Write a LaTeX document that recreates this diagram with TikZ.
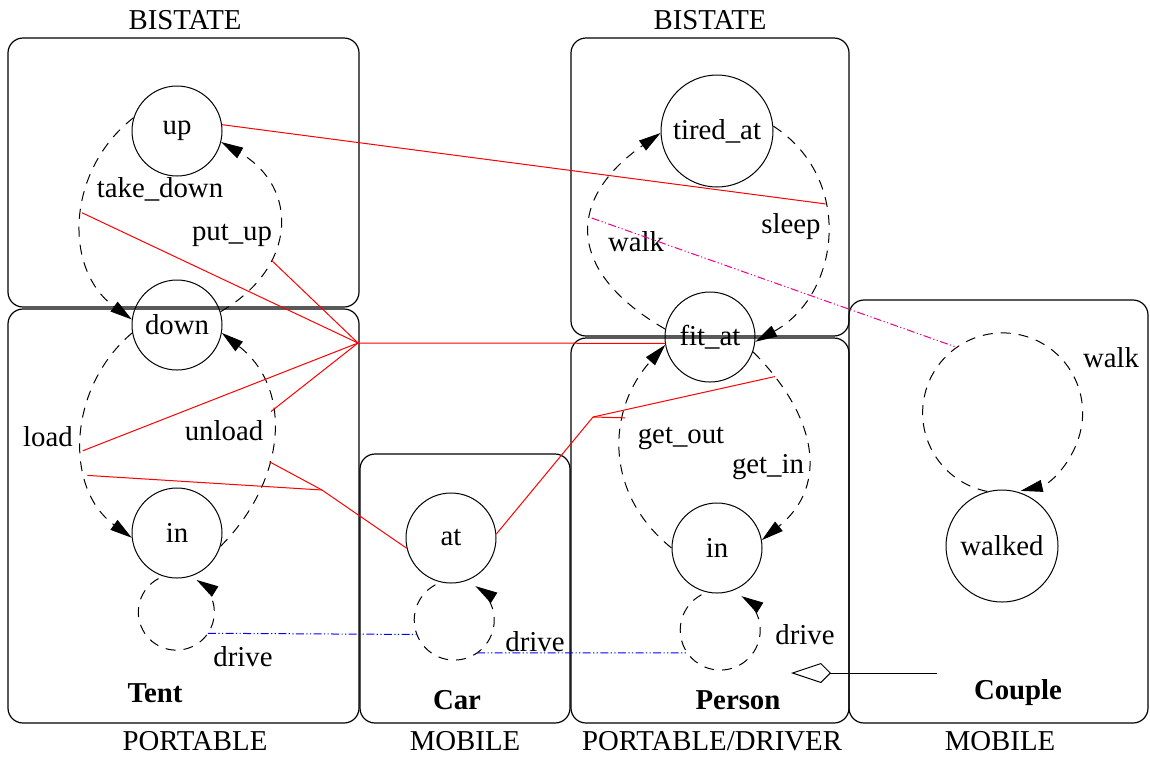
\documentclass[tikz,border=0pt]{standalone}
\usepackage{fontspec}
\setmainfont{Liberation Serif}
\usetikzlibrary{arrows.meta}
\tikzset{
  state/.style={circle,draw,line width=0.5pt,minimum size=45pt,inner sep=0pt},
  bigstate/.style={state,minimum size=56pt},
  group/.style={draw,line width=0.6pt,rounded corners=7.5pt},
  trans/.style={-{Triangle[length=11pt,width=6pt]},line width=0.5pt,dash pattern=on 5pt off 4pt},
  sync/.style={draw=red,line width=0.5pt},
  drivelink/.style={draw=blue,line width=0.5pt,dash pattern=on 4pt off 1.2pt on 0.6pt off 1.2pt on 0.6pt off 1.2pt},
  walklink/.style={drivelink,draw=magenta},
  partof/.style={-{Kite[open,length=20pt,width=10pt,inset=5pt]},line width=0.5pt},
  lbl/.style={inner sep=0pt},
  cls/.style={inner sep=0pt,font=\fontsize{14.4}{17}\selectfont\bfseries}}

\begin{document}
\begin{tikzpicture}[x=0.5pt,y=0.5pt,font=\fontsize{14.4}{17}\selectfont]
  \useasboundingbox (0,0) rectangle (1150,-757);
  \draw[group] (8,-38) rectangle (359,-307);
  \draw[group] (8,-309) rectangle (359,-723);
  \draw[group] (360,-454) rectangle (570,-723);
  \draw[group] (571,-38) rectangle (849,-336);
  \draw[group] (571,-338) rectangle (849,-723);
  \draw[group] (849,-300) rectangle (1148,-723);

  \node[lbl] (tentbi) at (185,-20) {BISTATE};
  \node[lbl] (persbi) at (710,-20) {BISTATE};
  \node[lbl] (tentkind) at (195,-741) {PORTABLE};
  \node[lbl] (carkind) at (465,-741) {MOBILE};
  \node[lbl] (perskind) at (712,-741) {PORTABLE/DRIVER};
  \node[lbl] (couplekind) at (1000,-741) {MOBILE};
  \node[cls] (tent) at (155,-693) {Tent};
  \node[cls] (car) at (457,-700) {Car};
  \node[cls] (person) at (738,-700) {Person};
  \node[cls] (couple) at (1018,-693) {Couple};

  \node[state] (up) at (177,-131) {up};
  \node[state] (down) at (177,-325) {down};
  \node[state] (tentin) at (177,-533) {in};
  \node[state] (carat) at (451,-538) {at};
  \node[bigstate] (tiredat) at (717,-131) {tired\_at};
  \node[state] (fitat) at (710,-337) {fit\_at};
  \node[state] (persin) at (717,-548) {in};
  \node[bigstate] (walked) at (1002,-546) {walked};

  \node[lbl] (takedown) at (160,-189) {take\_down};
  \node[lbl] (putup) at (232,-235) {put\_up};
  \node[lbl] (load) at (48,-437) {load};
  \node[lbl] (unload) at (224,-431) {unload};
  \node[lbl] (tentdrive) at (243,-657) {drive};
  \node[lbl] (cardrive) at (535,-642) {drive};
  \node[lbl] (persdrive) at (805,-635) {drive};
  \node[lbl] (walk) at (636,-242) {walk};
  \node[lbl] (sleep) at (791,-227) {sleep};
  \node[lbl] (getout) at (681,-438) {get\_out};
  \node[lbl] (getin) at (768,-467) {get\_in};
  \node[lbl] (couplewalk) at (1111,-358) {walk};

  \draw[trans] (up.163) to[out=218,in=144,looseness=1.08] node[coordinate,pos=0.47] (td) {} (down.173);
  \draw[trans] (down.17) to[out=30,in=330,looseness=1.35] node[coordinate,pos=0.32] (pu) {} (up.-14);
  \draw[trans] (down.190) to[out=220,in=144,looseness=1.05] node[coordinate,pos=0.56] (ld1) {} node[coordinate,pos=0.67] (ld2) {} (tentin.186);
  \draw[trans] (tentin.-17) to[out=45,in=322,looseness=1.1] node[coordinate,pos=0.39] (ul2) {} node[coordinate,pos=0.61] (ul1) {} (down.-10);
  \draw[trans] ([yshift=-2pt]tentin.-114) arc[start angle=118,end angle=418,radius=38] node[coordinate,pos=0.694] (tentdrv) {};
  \draw[trans] ([yshift=-2pt]carat.-110) arc[start angle=118,end angle=418,radius=40] node[coordinate,pos=0.277] (cardrvl) {} node[coordinate,pos=0.623] (cardrvr) {};
  \draw[trans] ([yshift=-2pt]persin.-110) arc[start angle=118,end angle=418,radius=40] node[coordinate,pos=0.322] (persdrv) {};
  \draw[trans] (fitat.170) to[out=150,in=215,looseness=1.5] node[coordinate,pos=0.58] (wk) {} (tiredat.182);
  \draw[trans] (tiredat.5) to[out=-33,in=29,looseness=1.15] node[coordinate,pos=0.37] (sl) {} (fitat.-6);
  \draw[trans] (persin.180) to[out=141,in=228,looseness=1.1] node[coordinate,pos=0.65] (go) {} (fitat.190);
  \draw[trans] (fitat.-19) to[out=-45,in=39,looseness=1.2] node[coordinate,pos=0.13] (gi) {} (persin.10);
  \draw[trans] (walked.105) arc[start angle=259,end angle=-77,radius=80] node[coordinate,pos=0.399] (cwk) {};

  \coordinate (tenthub) at (358,-343);
  \coordinate (tentjoin) at (322,-490);
  \coordinate (pershub) at (593,-417);
  \draw[sync] (up.8) -- (sl);
  \draw[sync] (td) -- (tenthub) -- (fitat.188);
  \draw[sync] (pu) -- (tenthub);
  \draw[sync] (ld1) -- (tenthub);
  \draw[sync] (ul1) -- (tenthub);
  \draw[sync] (ld2) -- (tentjoin) -- (carat.193);
  \draw[sync] (ul2) -- (tentjoin);
  \draw[sync] (carat.5) -- (pershub) -- (gi);
  \draw[sync] (pershub) -- (go);
  \draw[walklink] (wk) -- (cwk);
  \draw[drivelink] (tentdrv) -- (cardrvl);
  \draw[drivelink] (cardrvr) -- (persdrv);

  \coordinate (couplelink) at (937,-673);
  \coordinate (personlink) at (791,-673);
  \draw[partof] (couplelink) -- (personlink);
\end{tikzpicture}
\end{document}
